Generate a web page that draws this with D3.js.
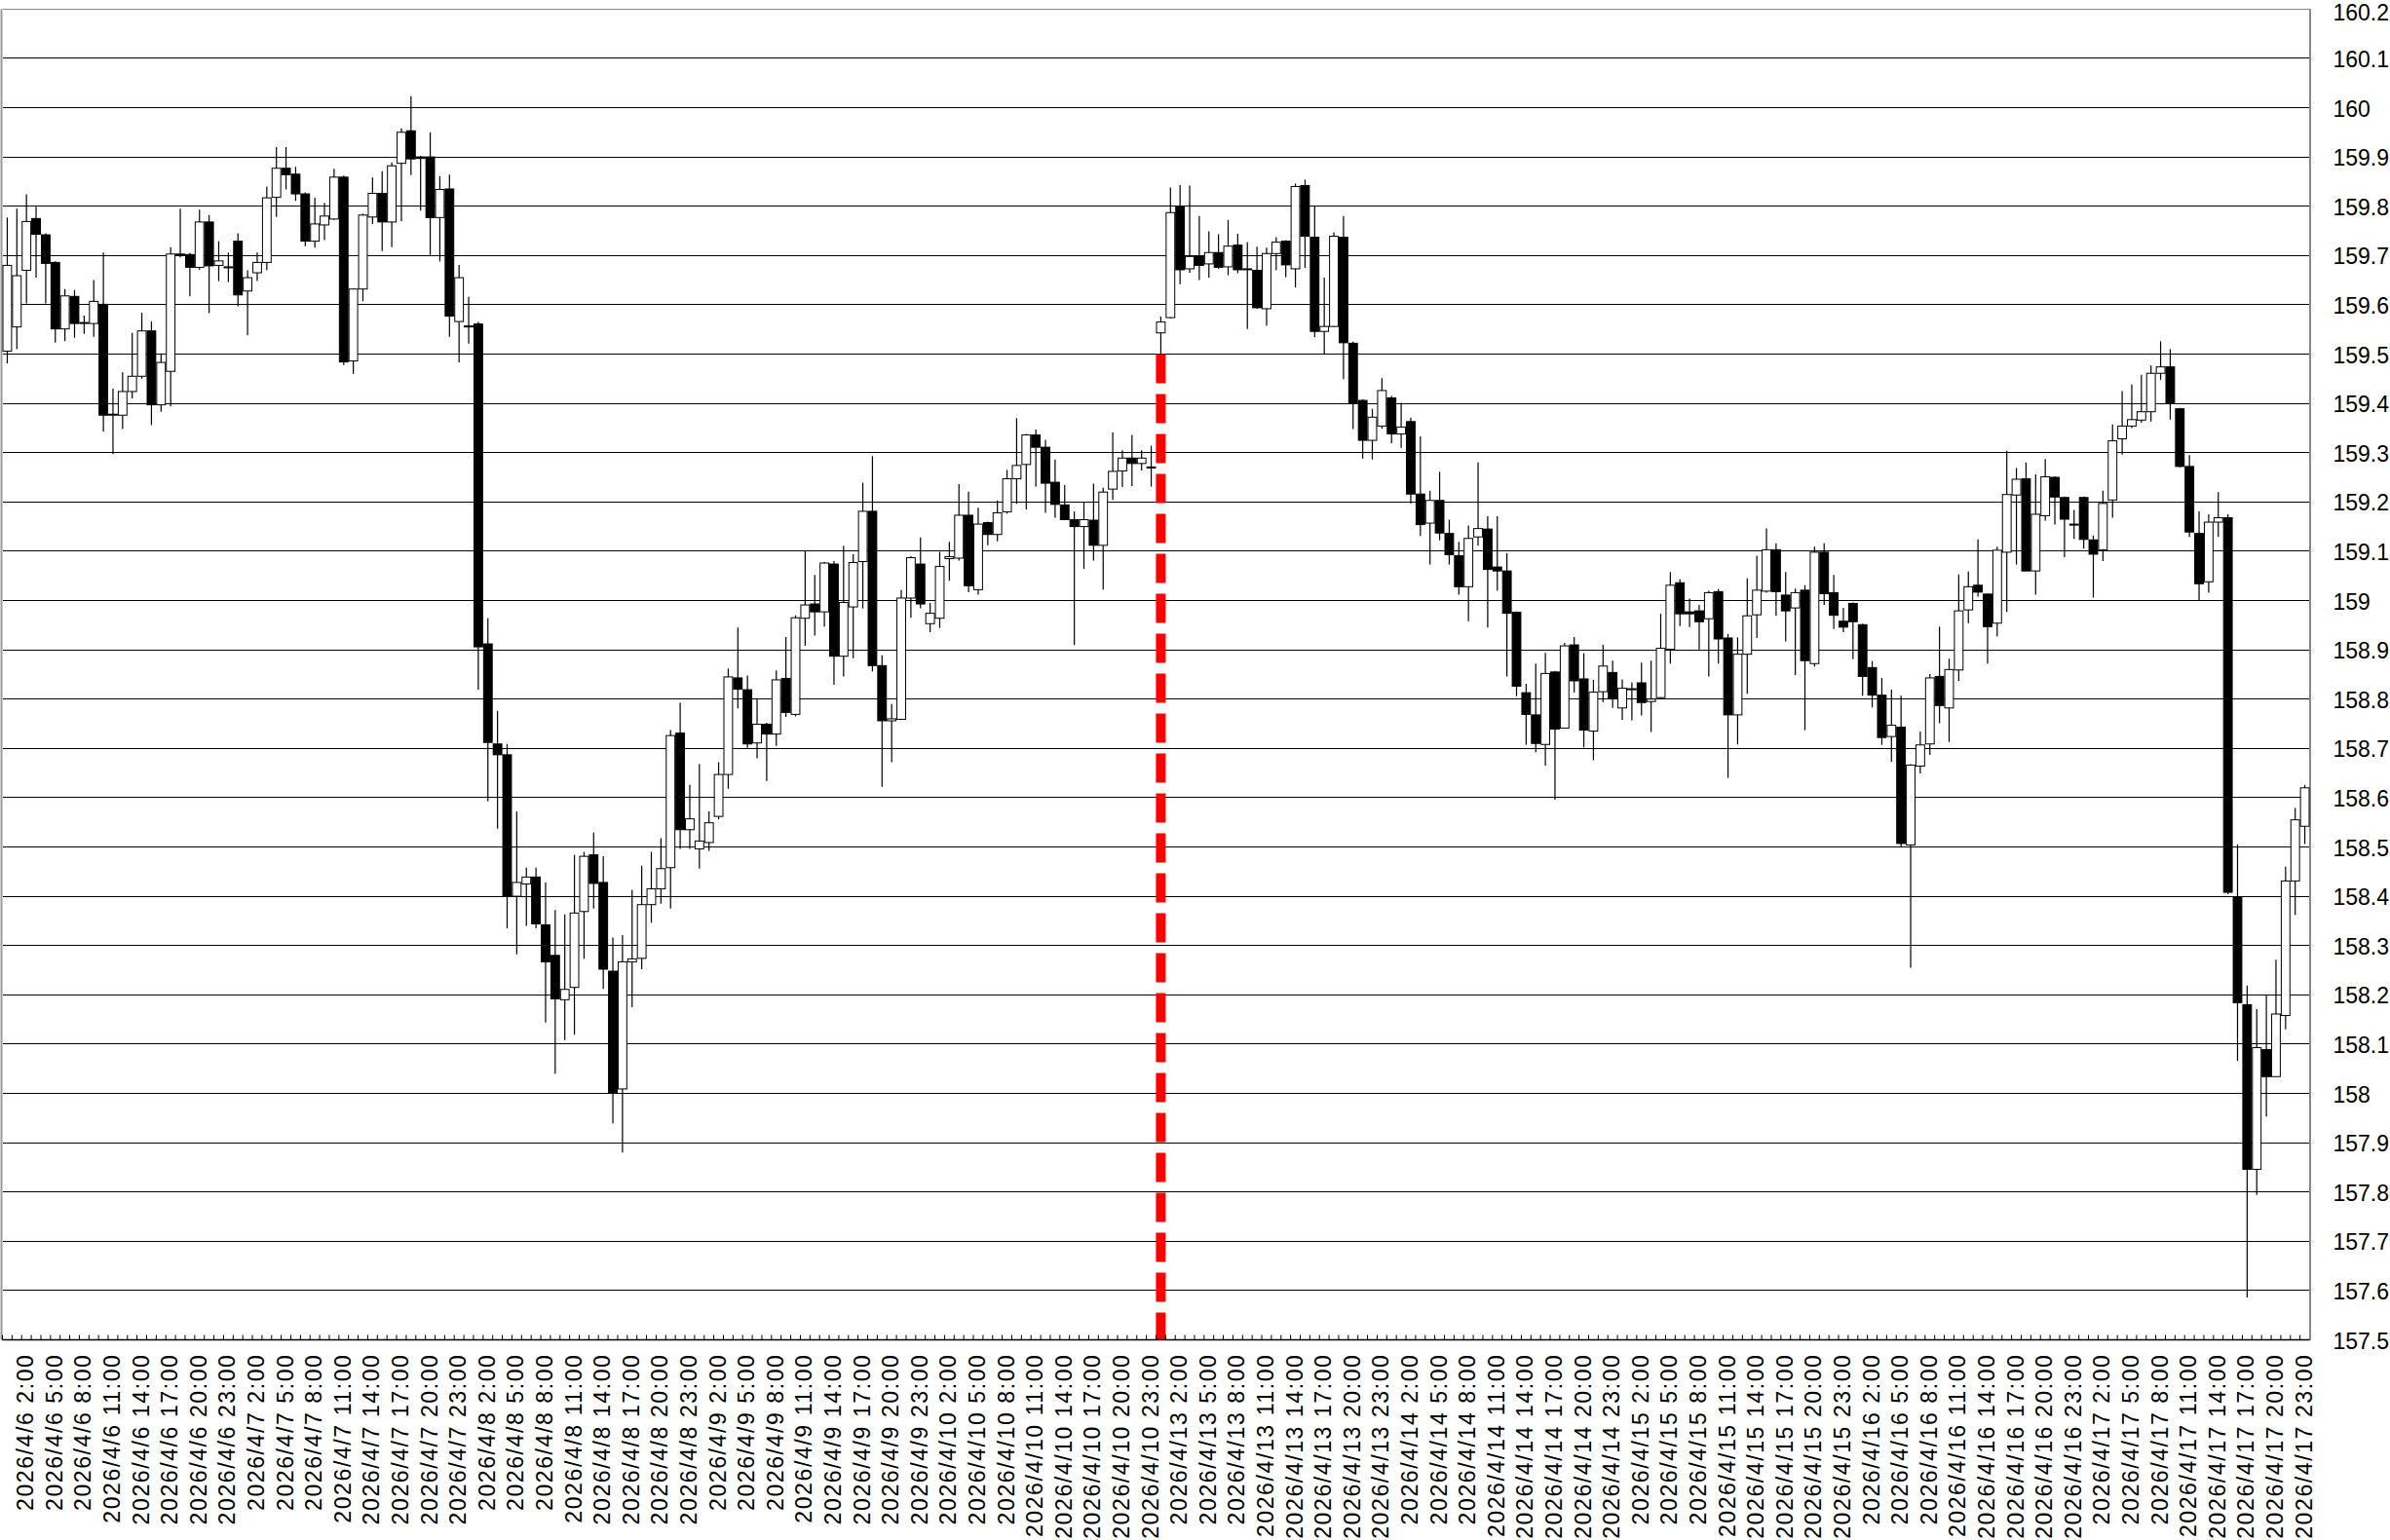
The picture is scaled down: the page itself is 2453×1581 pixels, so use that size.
<!DOCTYPE html>
<html>
<head>
<meta charset="utf-8">
<script src="https://cdnjs.cloudflare.com/ajax/libs/d3/7.8.5/d3.min.js"></script>
<style>
  html, body { margin: 0; padding: 0; background: #fff; }
  svg { display: block; }
</style>
</head>
<body>
<div id="chart"></div>
<script>
// trading days (weekend 4/11-4/12 skipped), 24 hourly bars each
var days = ["2026/4/6", "2026/4/7", "2026/4/8", "2026/4/9", "2026/4/10",
            "2026/4/13", "2026/4/14", "2026/4/15", "2026/4/16", "2026/4/17"];
var hours = ["0:00","1:00","2:00","3:00","4:00","5:00","6:00","7:00","8:00","9:00","10:00","11:00",
             "12:00","13:00","14:00","15:00","16:00","17:00","18:00","19:00","20:00","21:00","22:00","23:00"];

var open = [
  159.506,159.555,159.670,159.775,159.742,159.686,159.551,159.617,159.563,159.562,159.601,159.377,
  159.376,159.424,159.455,159.547,159.397,159.465,159.702,159.702,159.676,159.768,159.680,159.675,
  159.729,159.628,159.665,159.686,159.818,159.877,159.865,159.825,159.729,159.762,159.774,159.859,
  159.486,159.632,159.778,159.826,159.768,159.887,159.953,159.900,159.900,159.777,159.835,159.566,
  159.557,159.561,158.912,158.709,158.687,158.400,158.425,158.439,158.342,158.280,158.190,158.215,
  158.369,158.484,158.428,158.248,158.009,158.267,158.274,158.383,158.415,158.458,158.731,158.535,
  158.496,158.509,158.562,158.647,158.843,158.819,158.711,158.749,158.729,158.842,158.769,158.964,
  158.993,158.977,159.074,158.887,158.987,159.079,159.181,158.868,158.756,158.759,159.005,159.074,
  158.953,158.964,159.085,159.086,159.173,159.022,159.158,159.134,159.180,159.247,159.276,159.336,
  159.311,159.240,159.194,159.164,159.150,159.163,159.112,159.226,159.263,159.289,159.278,159.271,
  159.543,159.574,159.800,159.673,159.699,159.683,159.706,159.677,159.721,159.673,159.670,159.592,
  159.704,159.729,159.673,159.842,159.737,159.546,159.556,159.737,159.522,159.406,159.325,159.354,
  159.411,159.338,159.363,159.216,159.157,159.203,159.136,159.091,159.028,159.129,159.145,159.068,
  159.060,158.976,158.813,158.768,158.708,158.855,158.741,158.910,158.841,158.735,158.815,158.854,
  158.782,158.820,158.833,158.795,158.803,158.901,159.036,158.977,158.979,158.963,159.018,158.924,
  158.768,158.891,158.971,159.019,159.103,159.011,158.985,159.021,158.872,159.098,159.016,158.958,
  158.994,158.951,158.864,158.808,158.724,158.743,158.504,158.664,158.709,158.846,158.782,158.859,
  158.981,159.031,159.013,158.954,159.098,159.214,159.247,159.060,159.172,159.250,159.209,159.155,
  159.209,159.123,159.103,159.204,159.328,159.354,159.366,159.383,159.461,159.474,159.389,159.272,
  159.136,159.038,159.159,159.168,158.399,158.180,157.846,158.089,158.034,158.158,158.431,158.542
];
var high = [
  159.777,159.795,159.824,159.799,159.745,159.688,159.632,159.630,159.578,159.650,159.706,159.430,
  159.463,159.543,159.584,159.566,159.501,159.717,159.795,159.705,159.793,159.782,159.729,159.706,
  159.745,159.670,159.706,159.840,159.920,159.920,159.880,159.828,159.817,159.807,159.876,159.862,
  159.633,159.785,159.858,159.871,159.889,159.958,160.023,159.902,159.950,159.861,159.864,159.681,
  159.616,159.565,158.964,158.776,158.709,158.572,158.458,158.458,158.428,158.372,158.363,158.484,
  158.490,158.529,158.481,158.316,158.321,158.413,158.462,158.490,158.518,158.737,158.793,158.626,
  158.668,158.572,158.672,158.862,158.945,158.848,158.802,158.752,158.858,158.926,158.970,159.102,
  159.052,159.078,159.080,159.111,159.094,159.239,159.293,158.889,158.790,159.021,159.090,159.128,
  158.995,159.099,159.119,159.236,159.221,159.188,159.160,159.203,159.265,159.370,159.338,159.347,
  159.326,159.286,159.234,159.181,159.200,159.237,159.229,159.341,159.305,159.336,159.305,159.314,
  159.576,159.838,159.843,159.842,159.780,159.749,159.743,159.772,159.744,159.727,159.718,159.716,
  159.737,159.731,159.846,159.854,159.800,159.655,159.747,159.780,159.525,159.408,159.389,159.451,
  159.415,159.401,159.371,159.333,159.223,159.261,159.164,159.119,159.152,159.280,159.171,159.171,
  159.096,158.978,158.831,158.872,158.894,158.857,158.914,158.926,158.893,158.839,158.910,158.878,
  158.840,158.834,158.874,158.878,158.973,159.058,159.043,159.004,158.991,159.020,159.023,158.932,
  158.925,159.045,159.091,159.146,159.116,159.058,159.024,159.031,159.109,159.116,159.052,158.985,
  158.996,158.953,158.877,158.843,158.819,158.807,158.668,158.734,158.851,158.947,158.882,159.053,
  159.059,159.124,159.015,159.109,159.304,159.269,159.280,159.256,159.287,159.252,159.211,159.184,
  159.211,159.132,159.223,159.357,159.425,159.438,159.458,159.477,159.526,159.510,159.391,159.295,
  159.181,159.175,159.220,159.175,158.505,158.219,158.171,158.200,158.271,158.460,158.579,158.626
];
var low = [
  159.481,159.510,159.603,159.655,159.603,159.523,159.526,159.533,159.541,159.535,159.343,159.297,
  159.348,159.410,159.450,159.356,159.383,159.394,159.696,159.617,159.671,159.583,159.648,159.646,
  159.597,159.538,159.648,159.670,159.778,159.834,159.811,159.719,159.716,159.731,159.772,159.478,
  159.460,159.607,159.764,159.709,159.717,159.770,159.863,159.791,159.701,159.688,159.535,159.483,
  159.521,158.819,158.593,158.537,158.335,158.282,158.340,158.335,158.144,158.040,158.108,158.119,
  158.273,158.375,158.212,157.939,157.880,158.175,158.252,158.346,158.385,158.375,158.496,158.496,
  158.456,158.492,158.556,158.618,158.781,158.701,158.680,158.634,158.705,158.764,158.765,158.908,
  158.929,158.947,158.829,158.846,158.883,158.984,158.856,158.622,158.672,158.759,158.965,158.984,
  158.936,158.944,159.040,159.081,159.017,159.012,159.112,159.120,159.176,159.196,159.185,159.231,
  159.178,159.168,159.163,158.910,159.064,159.081,159.022,159.204,159.230,159.232,159.264,159.231,
  159.500,159.572,159.642,159.665,159.650,159.655,159.673,159.660,159.664,159.551,159.592,159.558,
  159.670,159.656,159.635,159.675,159.534,159.499,159.555,159.449,159.348,159.288,159.286,159.349,
  159.319,159.310,159.197,159.131,159.073,159.122,159.073,159.012,158.958,159.111,158.945,159.020,
  158.846,158.806,158.707,158.692,158.665,158.596,158.740,158.813,158.702,158.676,158.794,158.782,
  158.758,158.757,158.767,158.733,158.800,158.872,158.948,158.946,158.899,158.846,158.872,158.640,
  158.708,158.811,158.924,159.016,158.969,158.917,158.849,158.737,158.866,158.991,158.942,158.936,
  158.881,158.807,158.783,158.707,158.673,158.500,158.255,158.649,158.687,158.751,158.713,158.837,
  158.954,159.008,158.872,158.927,158.977,159.073,159.060,159.012,159.162,159.154,159.088,159.125,
  159.105,159.006,159.080,159.168,159.296,159.350,159.360,159.363,159.448,159.367,159.270,159.129,
  158.999,159.016,159.129,158.404,158.066,157.586,157.794,157.953,158.034,158.130,158.362,158.506
];
var close = [
  159.680,159.659,159.769,159.743,159.684,159.551,159.618,159.562,159.564,159.607,159.376,159.378,
  159.424,159.455,159.547,159.397,159.483,159.703,159.703,159.676,159.768,159.679,159.689,159.677,
  159.620,159.655,159.686,159.817,159.877,159.864,159.825,159.729,159.764,159.780,159.859,159.484,
  159.632,159.782,159.826,159.768,159.882,159.950,159.896,159.897,159.777,159.834,159.577,159.655,
  159.555,158.906,158.712,158.687,158.400,158.428,158.439,158.344,158.267,158.192,158.211,158.366,
  158.481,158.426,158.252,158.001,158.267,158.273,158.383,158.415,158.456,158.726,158.535,158.557,
  158.512,158.549,158.647,158.845,158.820,158.709,158.749,158.729,158.839,158.773,158.965,158.991,
  158.977,159.076,158.887,158.996,159.077,159.181,158.868,158.756,158.760,159.005,159.087,158.993,
  158.974,159.069,159.089,159.173,159.030,159.155,159.134,159.178,159.247,159.274,159.336,159.311,
  159.238,159.195,159.164,159.150,159.164,159.112,159.220,159.262,159.289,159.278,159.289,159.270,
  159.565,159.787,159.671,159.698,159.680,159.706,159.676,159.719,159.671,159.672,159.594,159.704,
  159.727,159.681,159.840,159.739,159.546,159.556,159.739,159.523,159.401,159.325,159.372,159.426,
  159.338,159.352,159.216,159.154,159.203,159.137,159.093,159.028,159.126,159.146,159.063,159.060,
  158.974,158.826,158.769,158.710,158.852,158.739,158.908,158.837,158.737,158.814,158.867,158.802,
  158.822,158.821,158.793,158.800,158.903,159.031,158.973,158.973,158.957,159.016,158.922,158.768,
  158.891,158.969,159.021,159.103,159.018,158.979,159.016,158.878,159.098,159.014,158.970,158.946,
  158.957,158.846,158.808,158.722,158.747,158.507,158.666,158.707,158.843,158.787,158.860,158.979,
  159.028,159.017,158.947,159.102,159.215,159.246,159.060,159.175,159.251,159.210,159.165,159.153,
  159.124,159.094,159.197,159.324,159.354,159.367,159.383,159.461,159.474,159.400,159.272,159.139,
  159.034,159.159,159.168,158.408,158.184,157.846,158.093,158.034,158.161,158.431,158.555,158.620
];

var yMin = 157.5, yMax = 160.2, yStep = 0.1;
var markerIndex = 120;       // first bar of 2026/4/13, red dashed marker
var markerFrom = 159.5;

var width = 2453, height = 1581;
var margin = { top: 9.3, right: 82.5, bottom: 205.5, left: 2.5 };
var plotW = width - margin.left - margin.right;
var plotH = height - margin.top - margin.bottom;

var cats = [];
days.forEach(function(d) { hours.forEach(function(h) { cats.push(d + " " + h); }); });

var bars = cats.map(function(c, i) {
  return { cat: c, o: open[i], h: high[i], l: low[i], c: close[i] };
});

var svg = d3.select("#chart").append("svg")
  .attr("width", width)
  .attr("height", height);

var x = d3.scaleBand()
  .domain(cats)
  .range([margin.left, margin.left + plotW])
  .paddingInner(0)
  .paddingOuter(0);

var y = d3.scaleLinear()
  .domain([yMin, yMax])
  .range([margin.top + plotH, margin.top]);

var yTicks = d3.range(0, Math.round((yMax - yMin) / yStep) + 1).map(function(k) {
  return +(yMin + k * yStep).toFixed(1);
});

// horizontal grid lines
svg.append("g")
  .attr("shape-rendering", "crispEdges")
  .selectAll("line")
  .data(yTicks)
  .enter().append("line")
  .attr("x1", margin.left)
  .attr("x2", margin.left + plotW)
  .attr("y1", function(d) { return y(d); })
  .attr("y2", function(d) { return y(d); })
  .attr("stroke", function(d, i) { return i === yTicks.length - 1 ? "#888" : "#000"; })
  .attr("stroke-width", 1);

// frame
svg.append("line")
  .attr("x1", margin.left - 1).attr("x2", margin.left - 1)
  .attr("y1", margin.top).attr("y2", margin.top + plotH)
  .attr("stroke", "#999").attr("stroke-width", 2);
svg.append("line")
  .attr("x1", margin.left + plotW + 0.5).attr("x2", margin.left + plotW + 0.5)
  .attr("y1", margin.top).attr("y2", margin.top + plotH)
  .attr("stroke", "#888").attr("stroke-width", 2);

// y labels on the right
svg.append("g")
  .selectAll("text")
  .data(yTicks)
  .enter().append("text")
  .attr("x", margin.left + plotW + 24)
  .attr("y", function(d) { return Math.max(13, y(d) + 1); })
  .attr("dominant-baseline", "central")
  .attr("font-family", "'Liberation Sans', Arial, sans-serif")
  .attr("font-size", 23)
  .attr("fill", "#000")
  .text(function(d) { return d3.format("")(d); });

// red dashed marker
svg.append("line")
  .attr("x1", x(cats[markerIndex]) + x.bandwidth() / 2)
  .attr("x2", x(cats[markerIndex]) + x.bandwidth() / 2)
  .attr("y1", y(markerFrom))
  .attr("y2", margin.top + plotH)
  .attr("stroke", "#ff0000")
  .attr("stroke-width", 10)
  .attr("stroke-dasharray", "30,11");

// candles
var bw = x.bandwidth();
var g = svg.append("g");
var candle = g.selectAll("g.candle")
  .data(bars)
  .enter().append("g")
  .attr("class", "candle");

candle.append("line")
  .attr("x1", function(d) { return x(d.cat) + bw / 2; })
  .attr("x2", function(d) { return x(d.cat) + bw / 2; })
  .attr("y1", function(d) { return y(d.h); })
  .attr("y2", function(d) { return y(d.l); })
  .attr("stroke", "#000")
  .attr("stroke-width", 1.2);

candle.append("rect")
  .attr("x", function(d) { return x(d.cat) + 0.5; })
  .attr("width", bw - 1)
  .attr("y", function(d) { return y(Math.max(d.o, d.c)); })
  .attr("height", function(d) { return Math.max(1, Math.abs(y(d.o) - y(d.c))); })
  .attr("fill", function(d) { return d.c > d.o ? "#fff" : "#000"; })
  .attr("stroke", "#000")
  .attr("stroke-width", 1);

// x axis
var xAxisY = margin.top + plotH;
svg.append("line")
  .attr("x1", margin.left).attr("x2", margin.left + plotW)
  .attr("y1", xAxisY).attr("y2", xAxisY)
  .attr("stroke", "#000").attr("stroke-width", 1.5);

svg.append("g")
  .selectAll("line")
  .data(cats)
  .enter().append("line")
  .attr("x1", function(d) { return x(d); })
  .attr("x2", function(d) { return x(d); })
  .attr("y1", xAxisY)
  .attr("y2", xAxisY - 5)
  .attr("stroke", "#000")
  .attr("stroke-width", 1);

var labelCats = cats.filter(function(d, i) { return i % 3 === 2; });

svg.append("g")
  .selectAll("text")
  .data(labelCats)
  .enter().append("text")
  .attr("transform", function(d) {
    return "translate(" + (x(d) + bw / 2 - 1) + "," + (xAxisY + 14) + ") rotate(-90)";
  })
  .attr("text-anchor", "end")
  .attr("dominant-baseline", "central")
  .attr("font-family", "'Liberation Sans', Arial, sans-serif")
  .attr("font-size", 23)
  .attr("letter-spacing", 1.6)
  .attr("fill", "#000")
  .text(function(d) { return d; });
</script>
</body>
</html>
